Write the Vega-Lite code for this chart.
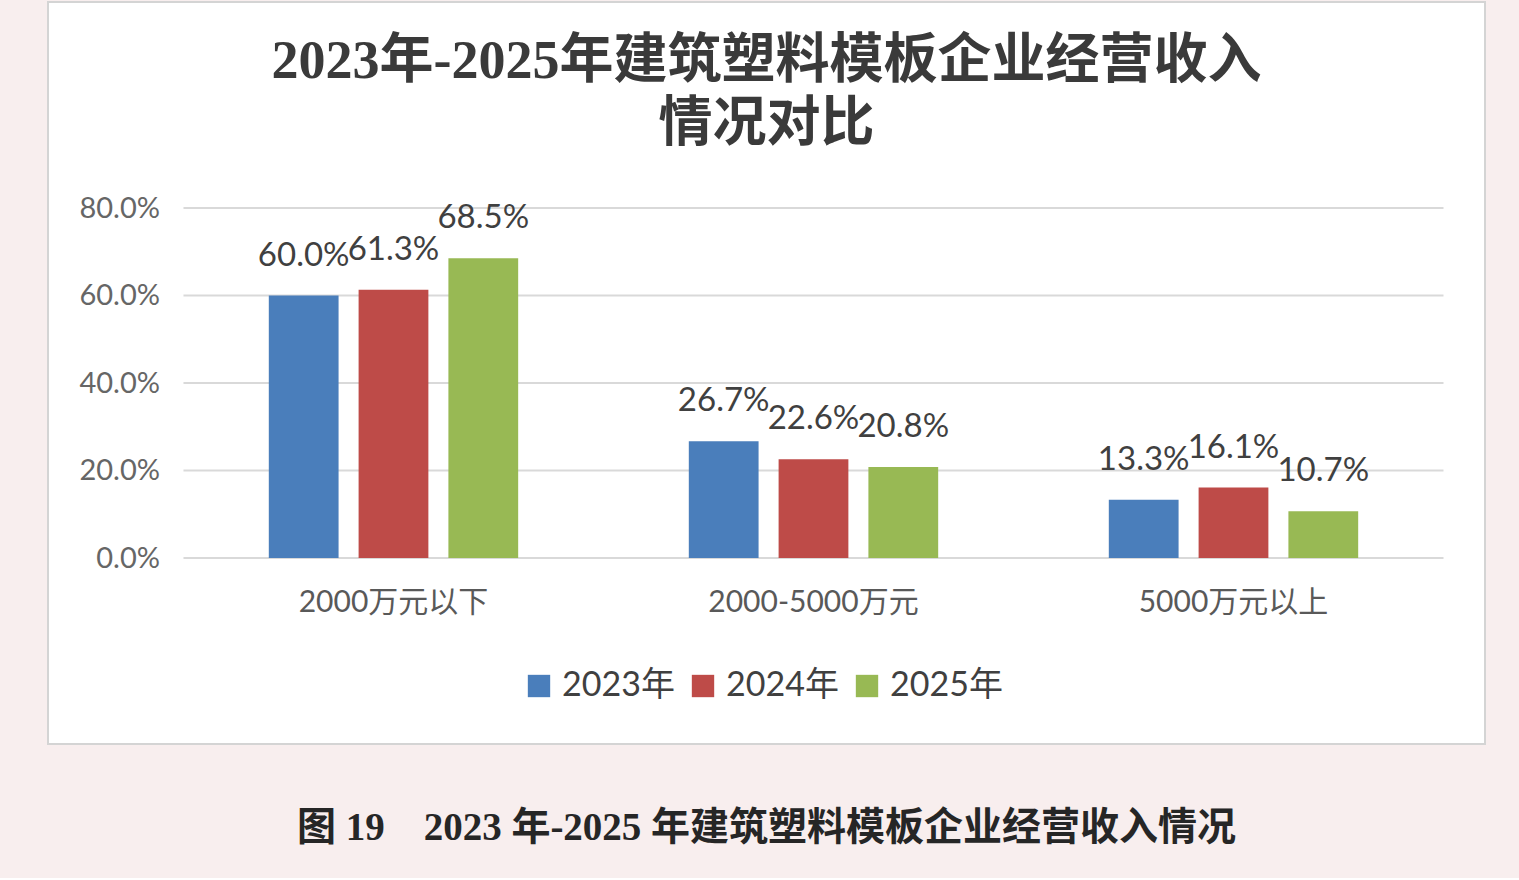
{
  "$schema": "https://vega.github.io/schema/vega-lite/v6.json",
  "background": "#f8eeee",
  "padding": {"left": 47, "top": 1, "right": 35, "bottom": 30},
  "title": {
    "text": "图 19　2023 年-2025 年建筑塑料模板企业经营收入情况",
    "orient": "bottom",
    "anchor": "middle",
    "font": "Liberation Serif, Noto Sans CJK SC",
    "fontSize": 39,
    "fontWeight": "bold",
    "color": "#262626",
    "offset": 64
  },
  "config": {
    "view": {"fill": "white", "stroke": "#d4d4d4", "strokeWidth": 2}
  },
  "vconcat": [
    {
      "width": 1437,
      "height": 742,
      "title": {
        "text": ["2023年-2025年建筑塑料模板企业经营收入", "情况对比"],
        "anchor": "middle",
        "frame": "group",
        "font": "Liberation Serif, Noto Sans CJK SC",
        "fontSize": 54,
        "fontWeight": "bold",
        "color": "#3a3a3a",
        "lineHeight": 63,
        "offset": -150
      },
      "data": {
        "values": [
          {"cat": "2000万元以下", "year": "2023年", "v": 0.600},
          {"cat": "2000万元以下", "year": "2024年", "v": 0.613},
          {"cat": "2000万元以下", "year": "2025年", "v": 0.685},
          {"cat": "2000-5000万元", "year": "2023年", "v": 0.267},
          {"cat": "2000-5000万元", "year": "2024年", "v": 0.226},
          {"cat": "2000-5000万元", "year": "2025年", "v": 0.208},
          {"cat": "5000万元以上", "year": "2023年", "v": 0.133},
          {"cat": "5000万元以上", "year": "2024年", "v": 0.161},
          {"cat": "5000万元以上", "year": "2025年", "v": 0.107}
        ]
      },
      "layer": [
        {
          "data": {"values": [{"g": 0}, {"g": 0.2}, {"g": 0.4}, {"g": 0.6}, {"g": 0.8}]},
          "mark": {"type": "rule", "stroke": "#d9d9d9", "strokeWidth": 2},
          "encoding": {
            "x": {"datum": "2000万元以下", "type": "nominal", "bandPosition": 0},
            "x2": {"datum": "5000万元以上", "bandPosition": 1},
            "y": {"field": "g", "type": "quantitative"}
          }
        },
        {
          "mark": {"type": "bar"},
          "encoding": {
            "x": {
              "field": "cat",
              "type": "nominal",
              "title": null,
              "scale": {
                "domain": ["2000万元以下", "2000-5000万元", "5000万元以上"],
                "paddingInner": 0,
                "paddingOuter": 0.2107,
                "align": 0.7655
              },
              "axis": {
                "orient": "bottom",
                "offset": -186,
                "domain": false,
                "ticks": false,
                "labelAngle": 0,
                "labelAlign": "center",
                "labelBaseline": "top",
                "labelPadding": 29,
                "labelLimit": 400,
                "labelFont": "Lato, Noto Sans CJK SC",
                "labelFontSize": 30,
                "labelColor": "#595959"
              }
            },
            "xOffset": {
              "field": "year",
              "type": "nominal",
              "scale": {"paddingInner": 0.223, "paddingOuter": 0.95}
            },
            "y": {
              "field": "v",
              "type": "quantitative",
              "title": null,
              "scale": {"domain": [-0.42514, 1.27086], "nice": false, "zero": false},
              "axis": {
                "values": [0, 0.2, 0.4, 0.6, 0.8],
                "format": ".1%",
                "offset": -135.5,
                "domain": false,
                "ticks": false,
                "grid": false,
                "labelPadding": 24,
                "labelFont": "Lato, Noto Sans CJK SC",
                "labelFontSize": 29,
                "labelColor": "#666666"
              }
            },
            "y2": {"datum": 0},
            "color": {
              "field": "year",
              "type": "nominal",
              "scale": {
                "domain": ["2023年", "2024年", "2025年"],
                "range": ["#4A7EBB", "#BE4B48", "#98B954"]
              },
              "legend": {
                "title": null,
                "orient": "none",
                "legendX": 474,
                "legendY": 667,
                "direction": "horizontal",
                "symbolType": "square",
                "symbolSize": 500,
                "symbolStrokeWidth": 0,
                "labelFont": "Lato, Noto Sans CJK SC",
                "labelFontSize": 34,
                "labelColor": "#404040",
                "labelOffset": 6,
                "columnPadding": 11,
                "labelLimit": 300
              }
            }
          }
        },
        {
          "mark": {
            "type": "text",
            "font": "Lato, Noto Sans CJK SC",
            "fontSize": 33,
            "color": "#404040",
            "align": "center",
            "baseline": "alphabetic",
            "dy": -30
          },
          "encoding": {
            "x": {"field": "cat", "type": "nominal"},
            "xOffset": {"field": "year", "type": "nominal"},
            "y": {"field": "v", "type": "quantitative"},
            "text": {"field": "v", "type": "quantitative", "format": ".1%"}
          }
        }
      ]
    }
  ]
}
